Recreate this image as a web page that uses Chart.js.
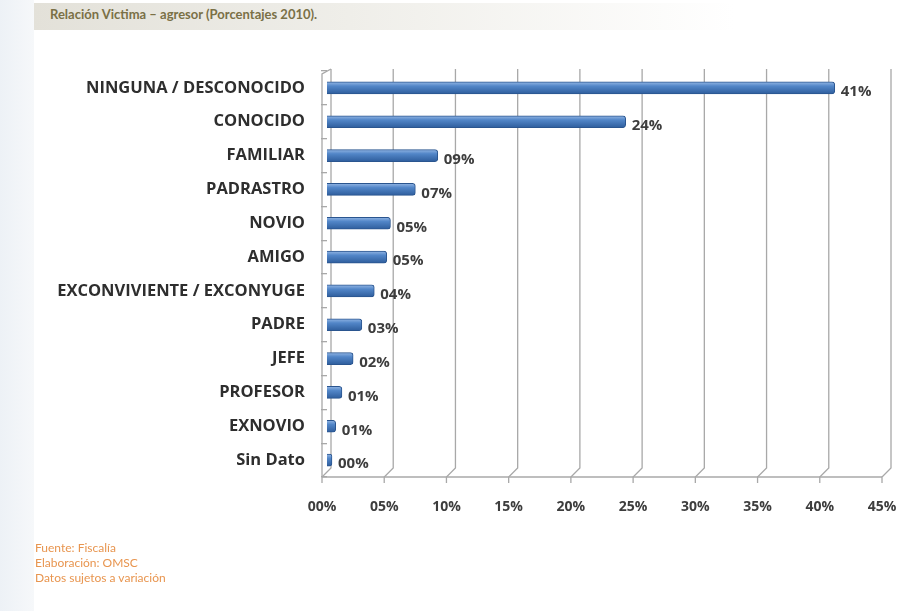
<!DOCTYPE html>
<html lang="es">
<head>
  <meta charset="UTF-8">
  <title>Relación Victima – agresor</title>
  <script src="https://cdn.jsdelivr.net/npm/chart.js"></script>
  <style>
    body {
      margin: 0;
      padding: 0;
      background-color: #fff;
      font-family: 'Open Sans', sans-serif;
    }
    .page {
      position: relative;
      width: 901px;
      height: 611px;
      overflow: hidden;
    }
    .side-strip {
      position: absolute;
      left: 0;
      top: 0;
      width: 34px;
      height: 611px;
      background: linear-gradient(to right, #edf1f6, #f6f8fa);
    }
    .banner {
      position: absolute;
      left: 34px;
      top: 3px;
      width: 700px;
      height: 27px;
      background: linear-gradient(to right, #e3e1d9, #efeee9 45%, rgba(255,255,255,0));
    }
    .title {
      position: absolute;
      left: 50px;
      top: 6px;
      font-family: 'Lato', sans-serif;
      font-weight: 700;
      font-size: 13px;
      color: #7a7046;
    }
    .footer {
      position: absolute;
      left: 35px;
      top: 540px;
      font-family: 'Lato', sans-serif;
      font-size: 12px;
      line-height: 15px;
      color: #e8954f;
    }
    canvas {
      position: absolute;
      left: 0;
      top: 0;
    }
  </style>
</head>
<body>
  <div class="page">
    <div class="side-strip"></div>
    <div class="banner"></div>
    <div class="title">Relación Victima – agresor (Porcentajes 2010).</div>
    <canvas id="chart" width="901" height="611"></canvas>
    <div class="footer">
      Fuente: Fiscalía<br>
      Elaboración: OMSC<br>
      Datos sujetos a variación
    </div>
  </div>

  <script>
    // categories, top to bottom
    const categories = [
      'NINGUNA / DESCONOCIDO', 'CONOCIDO', 'FAMILIAR', 'PADRASTRO', 'NOVIO', 'AMIGO',
      'EXCONVIVIENTE / EXCONYUGE', 'PADRE', 'JEFE', 'PROFESOR', 'EXNOVIO', 'Sin Dato'
    ];
    // percentages
    const percentages = [40.8, 24.0, 8.9, 7.1, 5.1, 4.8, 3.8, 2.8, 2.1, 1.2, 0.7, 0.4];
    // x axis ticks (percent)
    const xTicks = [0, 5, 10, 15, 20, 25, 30, 35, 40, 45];

    const fmt = v => String(Math.round(v)).padStart(2, '0') + '%';

    const DEPTH_X = 9;   // 3d depth of the floor
    const DEPTH_Y = 9;

    // draws the 3d wall / floor grid
    const wallGrid = {
      id: 'wallGrid',
      beforeDatasetsDraw(chart) {
        const { ctx, chartArea, scales } = chart;
        const x = scales.x;
        const top = chartArea.top;
        const bottom = chartArea.bottom;
        ctx.save();
        ctx.strokeStyle = '#a8a8a8';
        ctx.lineWidth = 1.3;
        xTicks.forEach(v => {
          const xb = x.getPixelForValue(v) + 4;
          const xf = xb - DEPTH_X;
          ctx.beginPath();
          ctx.moveTo(xb, top - 2);
          ctx.lineTo(xb, bottom - DEPTH_Y);
          ctx.lineTo(xf, bottom);
          ctx.lineTo(xf, bottom + 6);
          ctx.stroke();
        });
        // front floor edge
        const x0 = x.getPixelForValue(xTicks[0]) + 4 - DEPTH_X;
        const x1 = x.getPixelForValue(xTicks[xTicks.length - 1]) + 4 - DEPTH_X;
        ctx.beginPath();
        ctx.moveTo(x0, bottom);
        ctx.lineTo(x1, bottom);
        ctx.stroke();
        // left side wall front edge
        ctx.beginPath();
        ctx.moveTo(x0 + DEPTH_X, top - 2);
        ctx.lineTo(x0, top + 3);
        ctx.lineTo(x0, bottom);
        ctx.stroke();
        ctx.restore();
      }
    };

    // value labels next to the bars
    const barLabels = {
      id: 'barLabels',
      afterDatasetsDraw(chart) {
        const { ctx } = chart;
        const meta = chart.getDatasetMeta(0);
        ctx.save();
        ctx.font = 'bold 15px "Open Sans"';
        ctx.fillStyle = '#3d3d3d';
        ctx.textAlign = 'left';
        ctx.textBaseline = 'middle';
        meta.data.forEach((bar, i) => {
          ctx.fillText(fmt(percentages[i]), bar.x + 6, bar.y + 4);
        });
        ctx.restore();
      }
    };

    const ctx = document.getElementById('chart').getContext('2d');
    new Chart(ctx, {
      type: 'bar',
      data: {
        labels: categories,
        datasets: [{
          data: percentages,
          backgroundColor: (c) => {
            const chart = c.chart;
            const y = chart.scales && chart.scales.y;
            if (!y || !chart.chartArea) return '#4a7dbd';
            const cy = y.getPixelForValue(c.dataIndex);
            const g = chart.ctx.createLinearGradient(0, cy - 6, 0, cy + 6);
            g.addColorStop(0, '#93b6e4');
            g.addColorStop(0.35, '#5286c8');
            g.addColorStop(1, '#2e5d9c');
            return g;
          },
          borderColor: '#2a558f',
          borderWidth: 1,
          borderSkipped: 'start',
          borderRadius: 3,
          barThickness: 12
        }]
      },
      options: {
        indexAxis: 'y',
        responsive: false,
        animation: false,
        layout: {
          padding: { top: 71, right: 14, left: 0, bottom: 0 }
        },
        plugins: {
          legend: { display: false },
          tooltip: { enabled: false }
        },
        scales: {
          x: {
            min: 0,
            max: 45,
            afterFit: (s) => {
              s.height = 611 - 477;
              s.paddingLeft = 0;
              s.paddingRight = 0;
            },
            afterBuildTicks: (s) => { s.ticks = xTicks.map(v => ({ value: v })); },
            grid: { display: false },
            border: { display: false },
            ticks: {
              callback: v => fmt(v),
              padding: 14,
              labelOffset: -5,
              color: '#3d3d3d',
              font: { family: 'Open Sans', size: 14, weight: 'bold' }
            }
          },
          y: {
            afterFit: (s) => {
              s.width = 327;
              s.paddingTop = 0;
              s.paddingBottom = 0;
            },
            grid: {
              offset: true,
              drawOnChartArea: false,
              drawTicks: true,
              tickLength: 6,
              color: '#a8a8a8',
              lineWidth: 1.3
            },
            border: { display: false },
            ticks: {
              padding: 16,
              color: '#2e2e2e',
              font: { family: 'Open Sans', size: 16.5, weight: 'bold' }
            }
          }
        }
      },
      plugins: [wallGrid, barLabels]
    });
  </script>
</body>
</html>
